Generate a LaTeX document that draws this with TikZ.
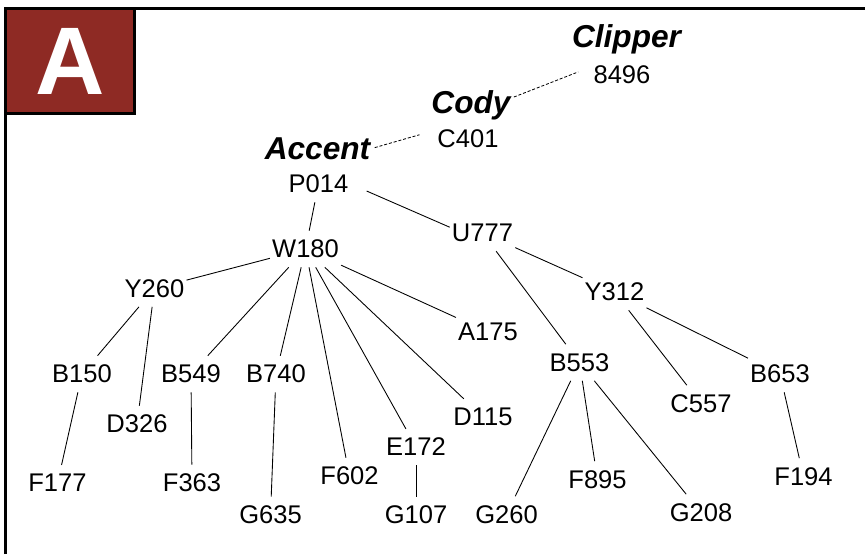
\documentclass[tikz,border=0pt]{standalone}
\usepackage{fontspec}
\setmainfont{Liberation Sans}
\definecolor{tagred}{HTML}{8E2A24}

\begin{document}
\begin{tikzpicture}[x=0.03cm,y=-0.03cm,
  t/.style={font=\fontsize{21.8}{24}\selectfont,inner xsep=1.7pt,inner ysep=7.7pt},
  ttl/.style={font=\fontsize{27}{30}\selectfont\bfseries\itshape,inner sep=1.7pt,anchor=base},
  lk/.style={line width=0.75pt},
  dl/.style={line width=0.7pt,dash pattern=on 2.6pt off 1.6pt}]
  \useasboundingbox (0,0) rectangle (865,554);
  \draw[line width=2.5pt] (5.3,554) -- (5.3,8.7) -- (865,8.7);
  \node[draw=black,line width=2.5pt,fill=tagred,text=white,font=\fontsize{82}{82}\selectfont\bfseries,minimum width=3.876cm,minimum height=3.144cm,inner sep=0pt,outer sep=0pt,anchor=north west] (tag) at (5.3,8.7) {A};
  % breed names
  \node[ttl] (clipper) at (626.5,47) {Clipper};
  \node[ttl] (cody) at (471,113) {Cody};
  \node[ttl] (accent) at (317.5,159) {Accent};
  % pedigree
  \node[t] (n8496) at (622,75) {8496};
  \node[t] (c401) at (468,139) {C401};
  \node[t] (p014) at (318.5,184) {P014};
  \node[t] (w180) at (305.5,249) {W180};
  \node[t] (u777) at (482.5,233) {U777};
  \node[t] (y260) at (154.5,288.5) {Y260};
  \node[t] (y312) at (614.5,292) {Y312};
  \node[t] (a175) at (488,332) {A175};
  \node[t] (b150) at (82,374) {B150};
  \node[t] (b549) at (191,374) {B549};
  \node[t] (b740) at (276,374) {B740};
  \node[t] (b553) at (579.5,362.5) {B553};
  \node[t] (b653) at (780,374) {B653};
  \node[t] (c557) at (701,403.5) {C557};
  \node[t] (d326) at (137,424) {D326};
  \node[t] (d115) at (483,417) {D115};
  \node[t] (e172) at (416,447) {E172};
  \node[t] (f177) at (57.5,483) {F177};
  \node[t] (f363) at (192,483) {F363};
  \node[t] (f602) at (349.5,476) {F602};
  \node[t] (f895) at (597.5,479.5) {F895};
  \node[t] (f194) at (803.5,476.5) {F194};
  \node[t] (g635) at (270.5,515) {G635};
  \node[t] (g107) at (416,515) {G107};
  \node[t] (g260) at (506.5,514.5) {G260};
  \node[t] (g208) at (701,512.5) {G208};
  \draw[dl,shorten <=2pt,shorten >=14pt] (accent.east) -- (c401.165);
  \draw[dl,shorten <=1pt,shorten >=12pt] (cody.10) -- (n8496.165);
  \draw[lk,shorten <=15pt] (p014.east) -- (u777.170);
  \foreach \a/\b in {p014/w180,w180/y260,w180/b549,w180/b740,w180/f602,w180/e172,w180/d115,w180/a175,
    y260/b150,y260/d326,b150/f177,b549/f363,b740/g635,e172/g107,u777/b553,u777/y312,
    y312/c557,y312/b653,b553/g260,b553/f895,b553/g208,b653/f194}
    \draw[lk] (\a) -- (\b);
\end{tikzpicture}
\end{document}
